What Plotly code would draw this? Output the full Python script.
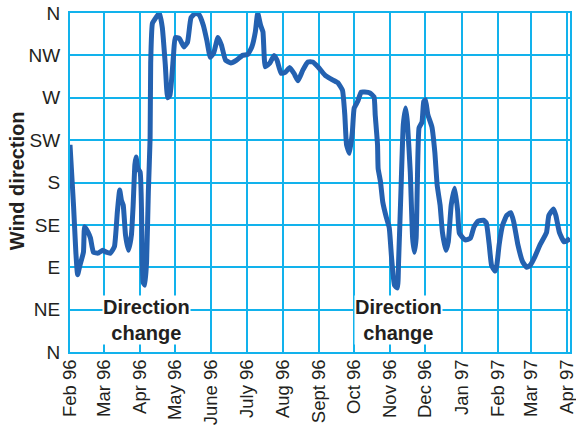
import plotly.graph_objects as go

# ---- data ----
dates = [
    "1996-02-01", "1996-02-04", "1996-02-06", "1996-02-07 12:00", "1996-02-09 12:00",
    "1996-02-12 12:00", "1996-02-13 12:00", "1996-02-16 12:00", "1996-02-18 12:00", "1996-02-21",
    "1996-02-25", "1996-02-29", "1996-03-03", "1996-03-06 12:00", "1996-03-10",
    "1996-03-12 12:00", "1996-03-14 12:00", "1996-03-16", "1996-03-17 12:00", "1996-03-19 12:00",
    "1996-03-22", "1996-03-24 12:00", "1996-03-26", "1996-03-27 12:00", "1996-03-28 12:00",
    "1996-03-30", "1996-04-01", "1996-04-02 12:00", "1996-04-03 12:00", "1996-04-05",
    "1996-04-06 12:00", "1996-04-08", "1996-04-09 12:00", "1996-04-10", "1996-04-11 12:00",
    "1996-04-15", "1996-04-17 12:00", "1996-04-20", "1996-04-22 12:00", "1996-04-24 12:00",
    "1996-04-26 12:00", "1996-04-29 12:00", "1996-05-01", "1996-05-04 12:00", "1996-05-08 12:00",
    "1996-05-11 12:00", "1996-05-14 12:00", "1996-05-18 12:00", "1996-05-21 12:00", "1996-05-25",
    "1996-05-28", "1996-05-31", "1996-06-03", "1996-06-06 12:00", "1996-06-09 12:00",
    "1996-06-13", "1996-06-17 12:00", "1996-06-22 12:00", "1996-06-27 12:00", "1996-07-02",
    "1996-07-05 12:00", "1996-07-08 12:00", "1996-07-10 12:00", "1996-07-13", "1996-07-15",
    "1996-07-17", "1996-07-21", "1996-07-24 12:00", "1996-07-27", "1996-07-30 12:00",
    "1996-08-03", "1996-08-07", "1996-08-10 12:00", "1996-08-14", "1996-08-18",
    "1996-08-22 12:00", "1996-08-26 12:00", "1996-08-31", "1996-09-06", "1996-09-11",
    "1996-09-17", "1996-09-21", "1996-09-23", "1996-09-24 12:00", "1996-09-27",
    "1996-09-29 12:00", "1996-10-01", "1996-10-04", "1996-10-07", "1996-10-10",
    "1996-10-14 12:00", "1996-10-18", "1996-10-19", "1996-10-21", "1996-10-21 12:00",
    "1996-10-23 12:00", "1996-10-25 12:00", "1996-10-28 12:00", "1996-10-31", "1996-11-02",
    "1996-11-04 12:00", "1996-11-07", "1996-11-08", "1996-11-10", "1996-11-12",
    "1996-11-14", "1996-11-15 12:00", "1996-11-18", "1996-11-20", "1996-11-21 12:00",
    "1996-11-23", "1996-11-24", "1996-11-25 12:00", "1996-11-28", "1996-11-29 12:00",
    "1996-12-01", "1996-12-03", "1996-12-06 12:00", "1996-12-09", "1996-12-11",
    "1996-12-13 12:00", "1996-12-15 12:00", "1996-12-18 12:00", "1996-12-20 12:00", "1996-12-23",
    "1996-12-26", "1996-12-28 12:00", "1996-12-30", "1997-01-04", "1997-01-08 12:00",
    "1997-01-11 12:00", "1997-01-15", "1997-01-19 12:00", "1997-01-22", "1997-01-24 12:00",
    "1997-01-26 12:00", "1997-01-29 12:00", "1997-01-31", "1997-02-02", "1997-02-05",
    "1997-02-08 12:00", "1997-02-12", "1997-02-14 12:00", "1997-02-18", "1997-02-22",
    "1997-02-25 12:00", "1997-02-28 12:00", "1997-03-04 12:00", "1997-03-09", "1997-03-14 12:00",
    "1997-03-16 12:00", "1997-03-20 12:00", "1997-03-22 12:00", "1997-03-25 12:00", "1997-03-29 12:00",
    "1997-04-02", "1997-04-03 12:00",
]

direction_deg = [
    220, 156, 106, 82, 92,
    106, 133, 127, 121, 106,
    105, 108, 106, 105, 112,
    149, 172, 161, 156, 124,
    108, 124, 156, 199, 207,
    195, 191, 127, 74, 71,
    96, 170, 227, 307, 349,
    356, 360, 344, 305, 270,
    273, 315, 334, 333, 324,
    329, 355, 360, 358, 347,
    331, 313, 318, 334, 326,
    310, 307, 310, 315, 316,
    324, 340, 360, 347, 340,
    303, 307, 315, 310, 296,
    297, 302, 296, 288, 299,
    308, 308, 303, 294, 290,
    286, 278, 252, 220, 211,
    234, 259, 266, 276, 276,
    275, 271, 252, 220, 195,
    181, 159, 143, 132, 100,
    71, 68, 96, 170, 241,
    259, 244, 191, 121, 106,
    121, 177, 238, 244, 266,
    268, 252, 239, 212, 177,
    156, 127, 108, 117, 156,
    174, 150, 126, 119, 121,
    133, 139, 140, 137, 114,
    92, 86, 92, 114, 135,
    145, 148, 138, 114, 96,
    90, 92, 101, 114, 127,
    145, 152, 145, 127, 117,
    119, 121,
]

month_ticks = [
    "1996-02-01", "1996-03-01", "1996-04-01", "1996-05-01", "1996-06-01",
    "1996-07-01", "1996-08-01", "1996-09-01", "1996-10-01", "1996-11-01",
    "1996-12-01", "1997-01-01", "1997-02-01", "1997-03-01", "1997-04-01",
]
month_labels = [
    "Feb 96", "Mar 96", "Apr 96", "May 96", "June 96", "July 96", "Aug 96",
    "Sept 96", "Oct 96", "Nov 96", "Dec 96", "Jan 97", "Feb 97", "Mar 97", "Apr 97",
]

compass_vals = [0, 45, 90, 135, 180, 225, 270, 315, 360]
compass_labels = ["N", "NE", "E", "SE", "S", "SW", "W", "NW", "N"]

annot_x = ["1996-04-06", "1996-11-08"]
annot_y = [34, 34]
annot_text = ["Direction<br>change", "Direction<br>change"]

# ---- styling ----
GRID = "#12b2ec"
LINE = "#2461b0"
TEXT = "#231f20"
FONT = "Liberation Sans, Arial, sans-serif"

fig = go.Figure()
fig.add_trace(go.Scatter(
    x=dates, y=direction_deg, mode="lines",
    line=dict(color=LINE, width=5, shape="spline", smoothing=0.4),
    hoverinfo="skip", showlegend=False,
))

for ax, ay, at in zip(annot_x, annot_y, annot_text):
    fig.add_annotation(
        x=ax, y=ay, xref="x", yref="y", text=at, showarrow=False,
        xanchor="center", yanchor="middle",
        font=dict(family=FONT, size=20, color=TEXT, weight="bold"),
        bgcolor="white", borderpad=0,
    )

fig.add_annotation(
    x=-0.106, y=0.504, xref="paper", yref="paper", text="Wind direction",
    textangle=-90, showarrow=False, xanchor="center", yanchor="middle",
    font=dict(family=FONT, size=20, color=TEXT, weight="bold"),
)

fig.update_layout(
    width=576, height=425,
    margin=dict(l=70, r=6, t=13, b=73, autoexpand=False),
    paper_bgcolor="white", plot_bgcolor="white",
    font=dict(family=FONT, size=19, color=TEXT),
    xaxis=dict(
        type="date", automargin=False,
        range=["1996-02-01", "1997-04-03 14:00"],
        tickmode="array", tickvals=month_ticks, ticktext=month_labels,
        tickangle=-90, tickfont=dict(size=18.5, color=TEXT),
        ticklabeloverflow="allow", ticklabelstandoff=-2,
        showgrid=True, gridcolor=GRID, gridwidth=2,
        showline=True, linecolor=GRID, linewidth=2, mirror=True,
        ticks="", zeroline=False, layer="below traces",
    ),
    yaxis=dict(
        automargin=False,
        range=[0, 360],
        tickmode="array", tickvals=compass_vals, ticktext=compass_labels,
        tickfont=dict(size=19, color=TEXT),
        ticklabeloverflow="allow",
        showgrid=True, gridcolor=GRID, gridwidth=2,
        showline=True, linecolor=GRID, linewidth=2, mirror=True,
        ticks="", zeroline=False, layer="below traces",
        ticklabelstandoff=4,
    ),
)

fig.write_html(
    "out.html",
    config={"displayModeBar": False},
    post_script="document.body.style.margin='0';document.body.style.padding='0';",
)
